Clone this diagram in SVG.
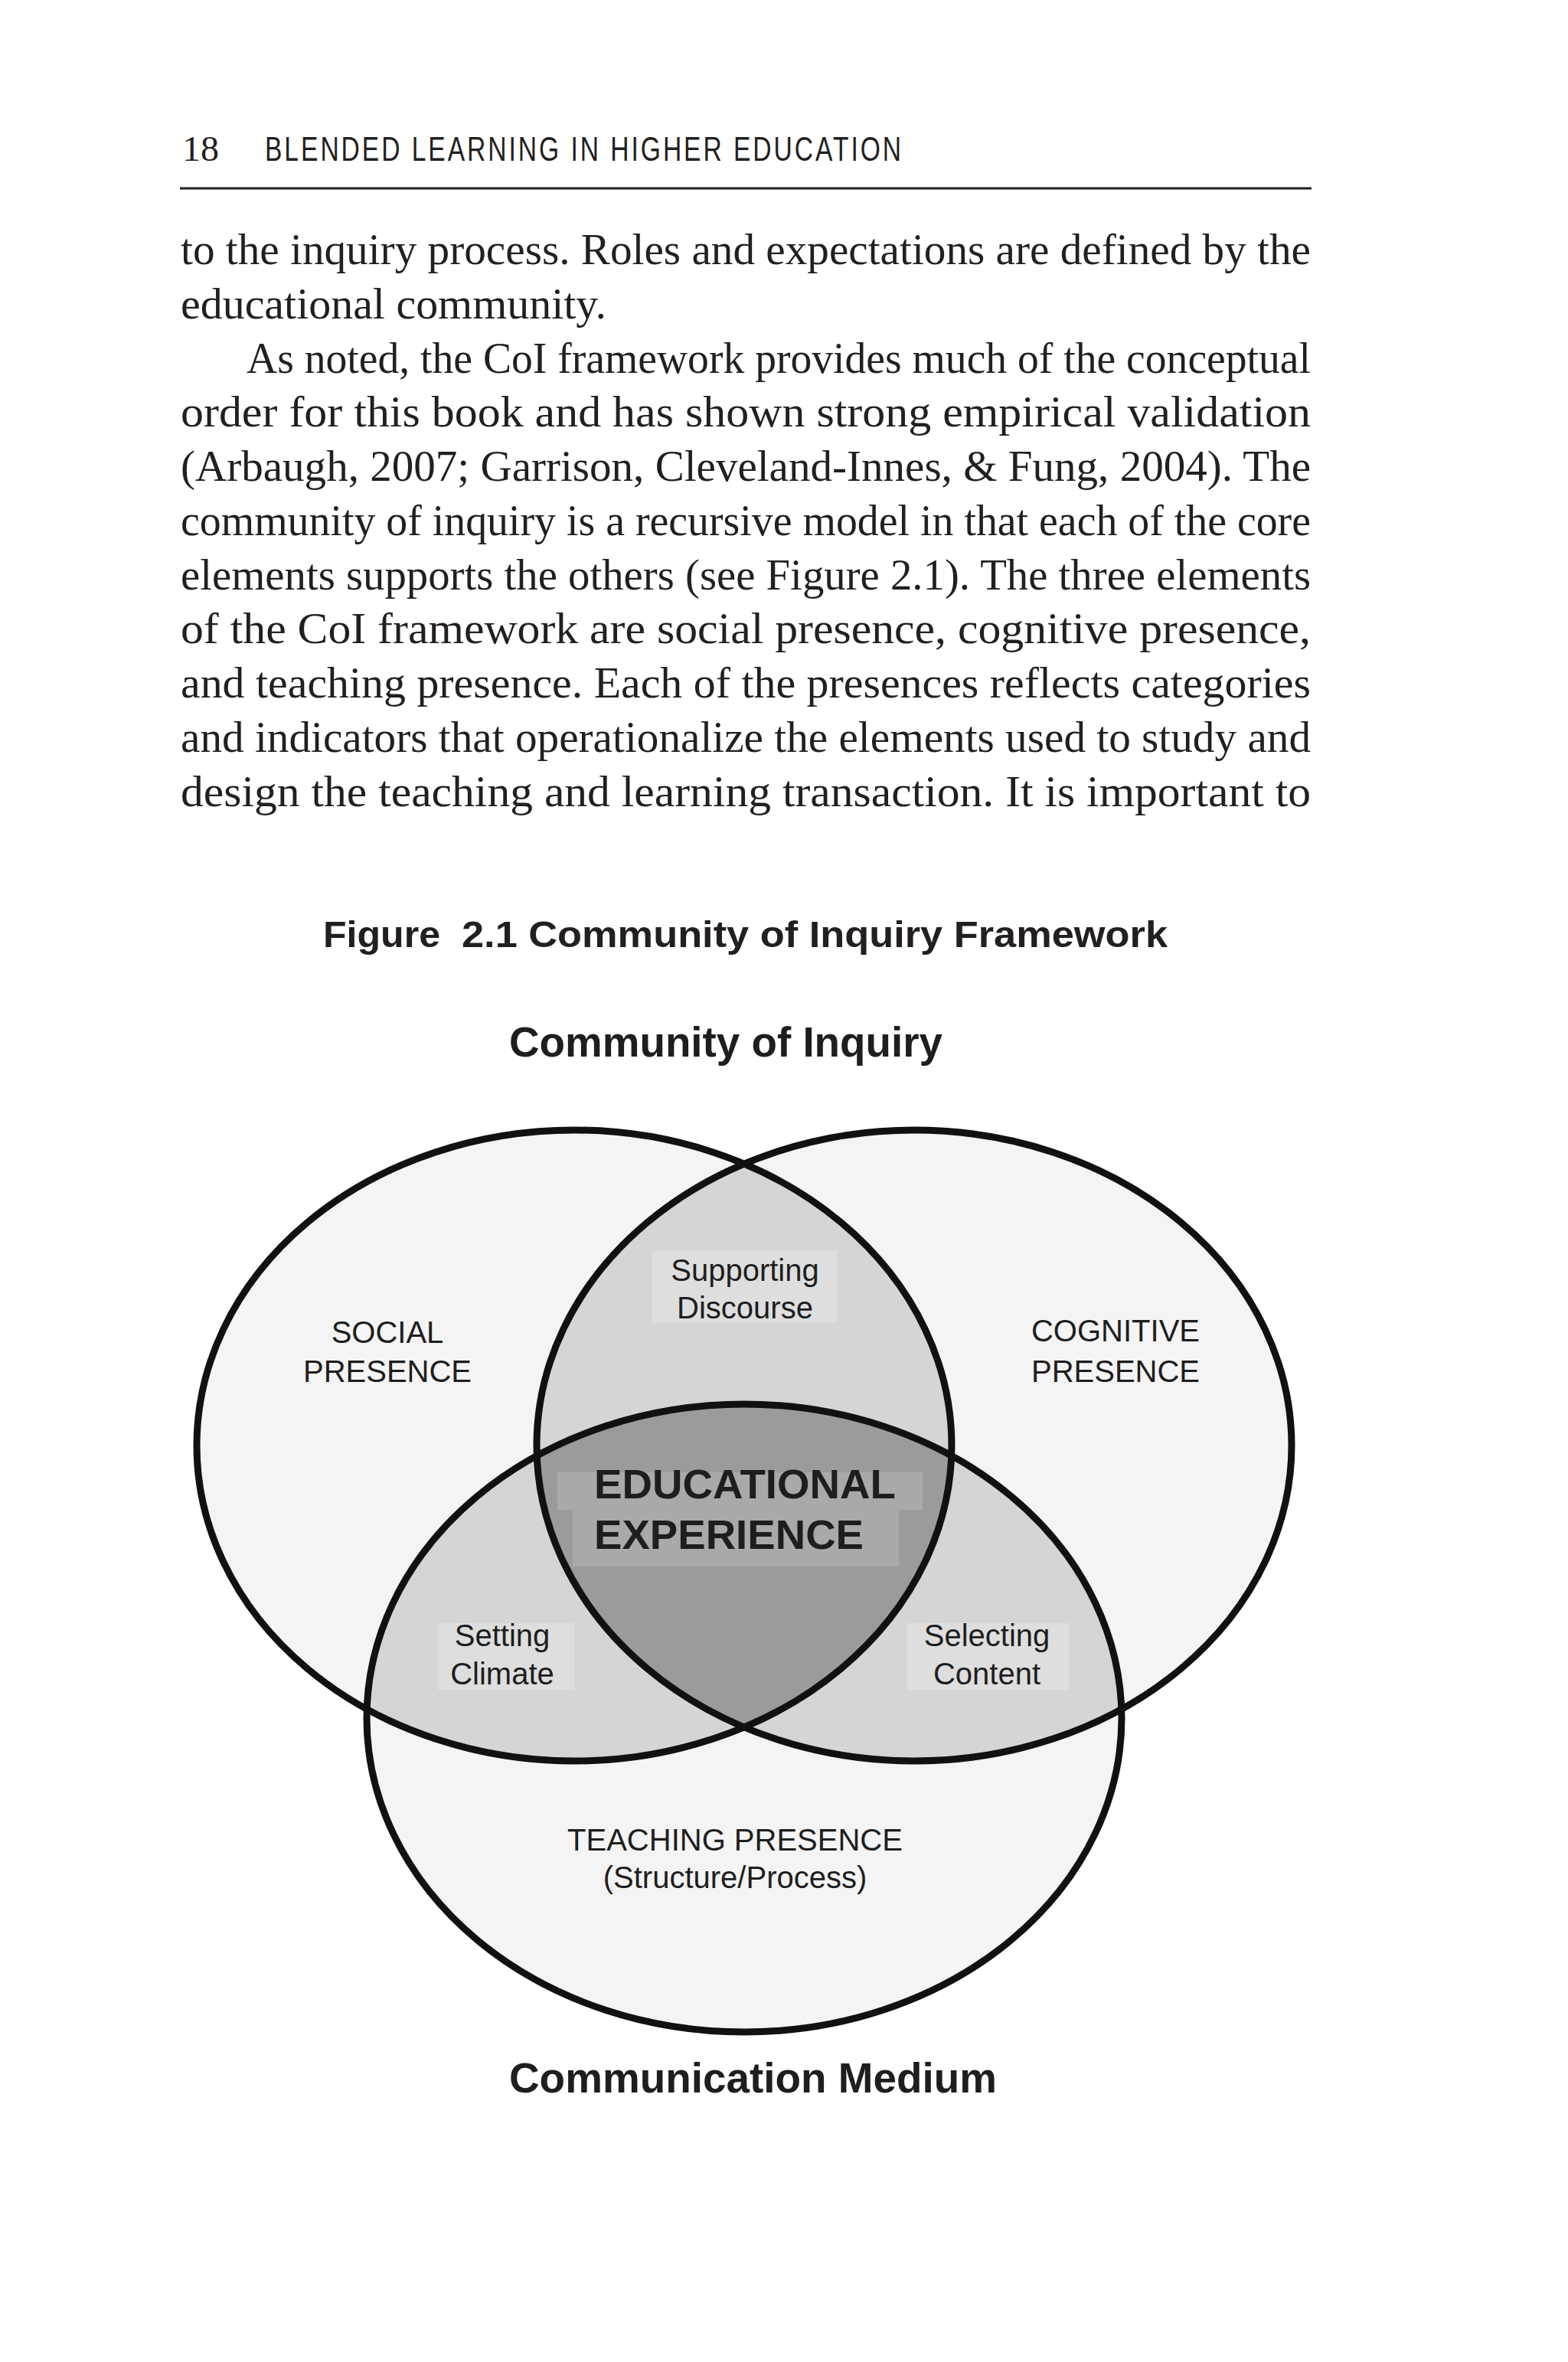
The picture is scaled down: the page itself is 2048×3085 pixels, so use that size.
<svg xmlns="http://www.w3.org/2000/svg" width="2048" height="3085" viewBox="0 0 2048 3085">
<style>
.body{font-family:"Liberation Serif",serif;font-size:58px;fill:#231f20}
.hdr{font-family:"Liberation Sans",sans-serif;font-size:45px;fill:#231f20;letter-spacing:4px}
.cap{font-family:"Liberation Sans",sans-serif;font-size:49px;font-weight:bold;fill:#231f20}
.ttl{font-family:"Liberation Sans",sans-serif;font-size:55px;font-weight:bold;fill:#1e1e1e}
.lbl{font-family:"Liberation Sans",sans-serif;font-size:40px;fill:#1e1e1e;text-anchor:middle}
.edu{font-family:"Liberation Sans",sans-serif;font-size:54px;font-weight:bold;fill:#1e1e1e}
.ring{fill:none;stroke:#111;stroke-width:9}
.outer{fill:#f4f4f4}
.pair{fill:#d5d5d5}
.triple{fill:#9b9b9b}
.boxp{fill:#fff;fill-opacity:0.22}
.boxt{fill:#fff;fill-opacity:0.15}
</style>
<defs>
<clipPath id="cL"><ellipse cx="750" cy="1888" rx="493" ry="412"/></clipPath>
<clipPath id="cR"><ellipse cx="1194" cy="1888" rx="493" ry="412"/></clipPath>
<clipPath id="cB"><ellipse cx="972" cy="2244" rx="493" ry="410"/></clipPath>
</defs>
<rect width="2048" height="3085" fill="#fff"/>
<g id="header">
<text x="238" y="210" style="font-family:'Liberation Serif',serif;font-size:46px;fill:#231f20" textLength="48" lengthAdjust="spacingAndGlyphs">18</text>
<text class="hdr" x="346" y="210" textLength="834" lengthAdjust="spacingAndGlyphs">BLENDED LEARNING IN HIGHER EDUCATION</text>
<line x1="235" y1="246" x2="1713" y2="246" stroke="#231f20" stroke-width="3"/>
</g>
<g id="body-text">
<text class="body" x="236" y="345" textLength="1476" lengthAdjust="spacingAndGlyphs">to the inquiry process. Roles and expectations are defined by the</text>
<text class="body" x="236" y="416" textLength="556" lengthAdjust="spacingAndGlyphs">educational community.</text>
<text class="body" x="322" y="487" textLength="1390" lengthAdjust="spacingAndGlyphs">As noted, the CoI framework provides much of the conceptual</text>
<text class="body" x="236" y="557" textLength="1476" lengthAdjust="spacingAndGlyphs">order for this book and has shown strong empirical validation</text>
<text class="body" x="236" y="628" textLength="1476" lengthAdjust="spacingAndGlyphs">(Arbaugh, 2007; Garrison, Cleveland-Innes, &amp; Fung, 2004). The</text>
<text class="body" x="236" y="699" textLength="1476" lengthAdjust="spacingAndGlyphs">community of inquiry is a recursive model in that each of the core</text>
<text class="body" x="236" y="770" textLength="1476" lengthAdjust="spacingAndGlyphs">elements supports the others (see Figure 2.1). The three elements</text>
<text class="body" x="236" y="840" textLength="1476" lengthAdjust="spacingAndGlyphs">of the CoI framework are social presence, cognitive presence,</text>
<text class="body" x="236" y="911" textLength="1476" lengthAdjust="spacingAndGlyphs">and teaching presence. Each of the presences reflects categories</text>
<text class="body" x="236" y="982" textLength="1476" lengthAdjust="spacingAndGlyphs">and indicators that operationalize the elements used to study and</text>
<text class="body" x="236" y="1053" textLength="1476" lengthAdjust="spacingAndGlyphs">design the teaching and learning transaction. It is important to</text>
</g>
<g id="caption">
<text class="cap" x="422" y="1237" textLength="153" lengthAdjust="spacingAndGlyphs">Figure</text>
<text class="cap" x="603" y="1237" textLength="922" lengthAdjust="spacingAndGlyphs">2.1 Community of Inquiry Framework</text>
</g>
<g id="title">
<text class="ttl" x="665" y="1380" textLength="566" lengthAdjust="spacingAndGlyphs">Community of Inquiry</text>
</g>
<g id="venn-fills">
<ellipse class="outer" cx="750" cy="1888" rx="493" ry="412"/>
<ellipse class="outer" cx="1194" cy="1888" rx="493" ry="412"/>
<ellipse class="outer" cx="972" cy="2244" rx="493" ry="410"/>
<ellipse class="pair" cx="1194" cy="1888" rx="493" ry="412" clip-path="url(#cL)"/>
<ellipse class="pair" cx="972" cy="2244" rx="493" ry="410" clip-path="url(#cL)"/>
<ellipse class="pair" cx="972" cy="2244" rx="493" ry="410" clip-path="url(#cR)"/>
<g clip-path="url(#cL)"><ellipse class="triple" cx="1194" cy="1888" rx="493" ry="412" clip-path="url(#cB)"/></g>
</g>
<g id="label-boxes">
<rect class="boxp" x="852" y="1633" width="242" height="94"/>
<rect class="boxt" x="728" y="1923" width="477" height="49"/>
<rect class="boxt" x="748" y="1972" width="426" height="74"/>
<rect class="boxp" x="572" y="2120" width="178" height="87"/>
<rect class="boxp" x="1185" y="2120" width="211" height="87"/>
</g>
<g id="node-social">
<ellipse class="ring" cx="750" cy="1888" rx="493" ry="412"/>
<text class="lbl" x="506" y="1754">SOCIAL</text>
<text class="lbl" x="506" y="1805">PRESENCE</text>
</g>
<g id="node-cognitive">
<ellipse class="ring" cx="1194" cy="1888" rx="493" ry="412"/>
<text class="lbl" x="1457" y="1752">COGNITIVE</text>
<text class="lbl" x="1457" y="1805">PRESENCE</text>
</g>
<g id="node-teaching">
<ellipse class="ring" cx="972" cy="2244" rx="493" ry="410"/>
<text class="lbl" x="960" y="2417">TEACHING PRESENCE</text>
<text class="lbl" x="960" y="2466">(Structure/Process)</text>
</g>
<g id="node-supporting-discourse">
<text class="lbl" x="973" y="1673">Supporting</text>
<text class="lbl" x="973" y="1722">Discourse</text>
</g>
<g id="node-setting-climate">
<text class="lbl" x="656" y="2150">Setting</text>
<text class="lbl" x="656" y="2200">Climate</text>
</g>
<g id="node-selecting-content">
<text class="lbl" x="1289" y="2150">Selecting</text>
<text class="lbl" x="1289" y="2200">Content</text>
</g>
<g id="node-educational-experience">
<text class="edu" x="776" y="1957" textLength="394" lengthAdjust="spacingAndGlyphs">EDUCATIONAL</text>
<text class="edu" x="776" y="2023" textLength="352" lengthAdjust="spacingAndGlyphs">EXPERIENCE</text>
</g>
<g id="medium">
<text class="ttl" x="665" y="2733" textLength="637" lengthAdjust="spacingAndGlyphs">Communication Medium</text>
</g>
</svg>
